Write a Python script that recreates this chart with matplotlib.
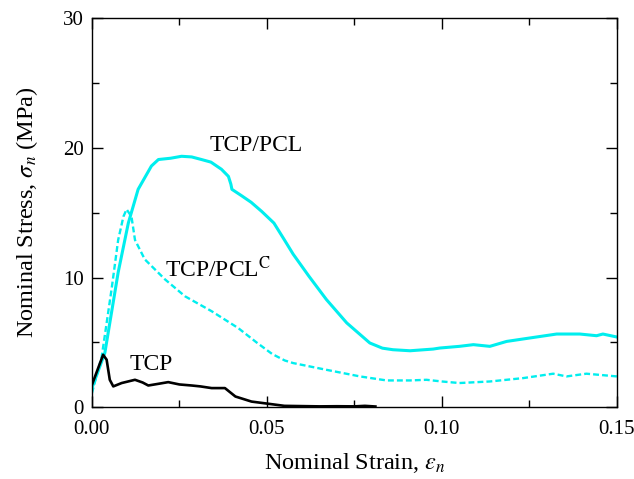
import matplotlib
matplotlib.use("Agg")
import matplotlib.pyplot as plt
from matplotlib.ticker import MultipleLocator

plt.rcParams['font.family'] = ['Liberation Serif', 'DejaVu Serif']
plt.rcParams['mathtext.fontset'] = 'stix'

# TCP/PCL (solid cyan)
pcl_x = [0.0, 0.0037, 0.0075, 0.0104, 0.0132, 0.017, 0.019, 0.0225, 0.0256, 0.0285,
         0.0313, 0.034, 0.037, 0.039, 0.0397, 0.040, 0.0428, 0.0455, 0.0485, 0.052,
         0.055, 0.0575, 0.062, 0.067, 0.0728, 0.0794, 0.083, 0.086, 0.0909, 0.0975,
         0.0994, 0.105, 0.109, 0.1137, 0.1185, 0.125, 0.1328, 0.1394, 0.1442, 0.146, 0.15]
pcl_y = [1.47, 4.2, 10.4, 14.2, 16.8, 18.6, 19.1, 19.2, 19.35, 19.3,
         19.1, 18.9, 18.35, 17.8, 17.2, 16.8, 16.3, 15.8, 15.1, 14.2,
         12.9, 11.8, 10.1, 8.3, 6.5, 4.95, 4.55, 4.43, 4.35, 4.48,
         4.56, 4.69, 4.82, 4.69, 5.07, 5.33, 5.64, 5.64, 5.51, 5.64, 5.41]

# TCP/PCL^C (dashed cyan)
pclc_x = [0.0, 0.0028, 0.0056, 0.0075, 0.009, 0.0099, 0.0113, 0.0123, 0.0151, 0.0209,
          0.0266, 0.0342, 0.0418, 0.047, 0.0515, 0.0551, 0.0575, 0.067, 0.0766, 0.0842,
          0.0909, 0.0956, 0.1, 0.105, 0.1137, 0.1232, 0.1318, 0.1356, 0.1413, 0.15]
pclc_y = [1.08, 3.9, 9.07, 12.9, 14.7, 15.26, 14.7, 12.9, 11.4, 9.85,
          8.55, 7.4, 6.1, 5.0, 4.1, 3.6, 3.4, 2.88, 2.37, 2.06,
          2.06, 2.11, 1.98, 1.86, 1.98, 2.24, 2.58, 2.37, 2.58, 2.37]

# TCP (solid black)
tcp_x = [0.0, 0.0032, 0.0042, 0.0051, 0.0061, 0.0085, 0.0123, 0.0145, 0.0161, 0.019,
         0.0218, 0.025, 0.0285, 0.031, 0.0342, 0.038, 0.041, 0.0456, 0.0513, 0.055,
         0.06, 0.065, 0.07, 0.075, 0.078, 0.081]
tcp_y = [1.72, 4.04, 3.66, 2.11, 1.6, 1.86, 2.11, 1.9, 1.67, 1.8,
         1.93, 1.75, 1.67, 1.6, 1.47, 1.47, 0.82, 0.43, 0.23, 0.1,
         0.08, 0.06, 0.07, 0.06, 0.1, 0.05]

fig = plt.figure(figsize=(6.34, 4.79), dpi=100)
ax = fig.add_axes([0.145, 0.150, 0.828, 0.812])

cyan = '#00eeee'
ax.plot(pcl_x, pcl_y, color=cyan, lw=2.2)
ax.plot(pclc_x, pclc_y, color=cyan, lw=1.7, dashes=(2.5, 1.3))
ax.plot(tcp_x, tcp_y, color='black', lw=1.9)

ax.text(0.0337, 19.77, 'TCP/PCL', fontsize=17, ha='left', va='baseline')
ax.text(0.0208, 10.0, 'TCP/PCL$^{\\mathrm{C}}$', fontsize=17, ha='left', va='baseline')
ax.text(0.0108, 2.9, 'TCP', fontsize=17, ha='left', va='baseline')

ax.set_xlim(0, 0.15)
ax.set_ylim(0, 30)
ax.xaxis.set_major_locator(MultipleLocator(0.05))
ax.xaxis.set_minor_locator(MultipleLocator(0.025))
ax.yaxis.set_major_locator(MultipleLocator(10))
ax.yaxis.set_minor_locator(MultipleLocator(5))
ax.xaxis.set_major_formatter(plt.FormatStrFormatter('%.2f'))
ax.tick_params(which='both', direction='in', top=True, right=True, labelsize=15, width=1.0)
ax.tick_params(which='major', length=8, pad=6)
ax.tick_params(axis='x', which='major', pad=9)
ax.tick_params(which='minor', length=5)
for s in ax.spines.values():
    s.set_linewidth(1.0)

ax.set_xlabel('Nominal Strain, $\\varepsilon_n$', fontsize=17.5, labelpad=9)
ax.set_ylabel('Nominal Stress, $\\sigma_n$ (MPa)', fontsize=17.5, labelpad=16)

plt.savefig('out.png', dpi=100)
